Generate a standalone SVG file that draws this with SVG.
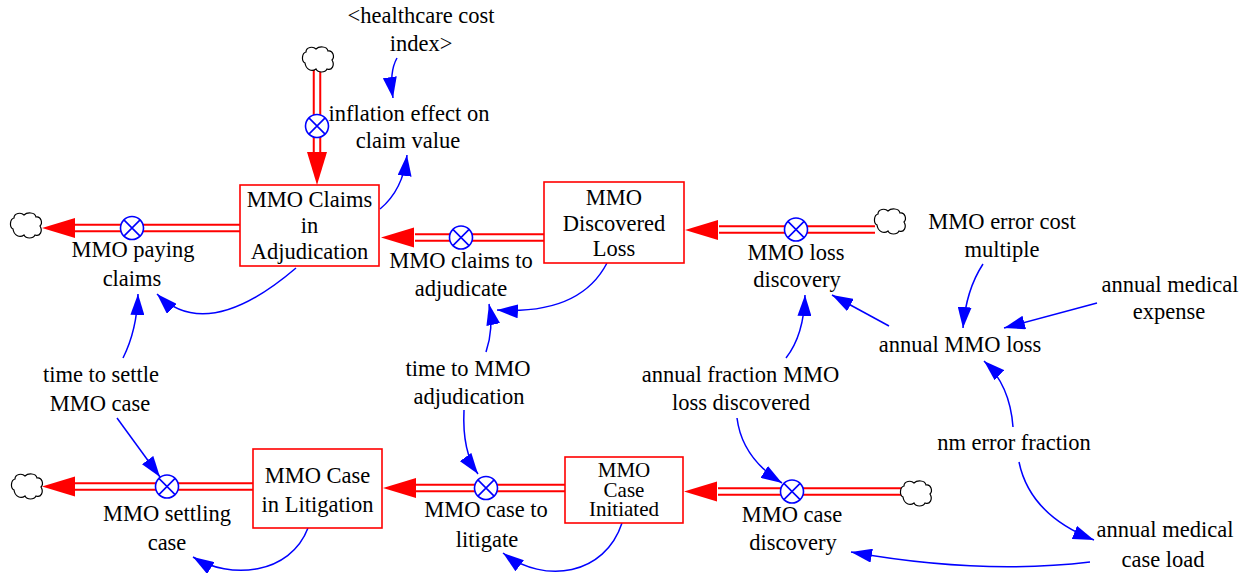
<svg xmlns="http://www.w3.org/2000/svg" width="1250" height="573" viewBox="0 0 1250 573" font-family="'Liberation Serif', 'DejaVu Serif', serif">
  <style>
    text { font-family: 'Liberation Serif', 'DejaVu Serif', serif; font-size: 22.5px; fill: #000; text-anchor: middle; }
    .tight { font-size: 21px; }
    .stock { fill: #fff; stroke: #ff0000; stroke-width: 1.6; }
    .pipeOuter { stroke: #ff0000; stroke-width: 8.5; fill: none; }
    .pipeInner { stroke: #fff; stroke-width: 4.5; fill: none; }
    .flowHead { fill: #ff0000; }
    .valve circle { fill: #fff; stroke: #0000ff; stroke-width: 1.6; }
    .valve path { stroke: #0000ff; stroke-width: 1.6; fill: none; }
    .cloud { fill: #fff; stroke: #000; stroke-width: 1.2; }
    .link { fill: none; stroke: #0000ff; stroke-width: 1.5; marker-end: url(#linkHead); }
  </style>
  <defs>
    <marker id="linkHead" markerUnits="userSpaceOnUse" viewBox="0 0 21 14" refX="21" refY="7" markerWidth="21" markerHeight="14" orient="auto">
      <path d="M0,0 L21,7 L0,14 Z" fill="#0000ff"/>
    </marker>
    <!-- flow arrowhead pointing along +x, tip at origin -->
    <path id="flowHead" class="flowHead" d="M0,0 L-33,-10 L-33,10 Z"/>
    <!-- source / sink cloud -->
    <path id="cloud" class="cloud" d="M-13,4 C-17,2 -16,-6 -12,-7 C-12,-12 -5,-13 -2,-10 C1,-13 9,-13 10,-8 C15,-9 17,-2 14,1 C17,6 14,12 9,10 C7,14 0,14 -2,10 C-6,13 -12,11 -13,4 Z"/>
    <g id="valve" class="valve">
      <circle cx="0" cy="0" r="11.5"/>
      <path d="M-8.1,-8.1 L8.1,8.1 M-8.1,8.1 L8.1,-8.1"/>
    </g>
  </defs>

  <rect width="1250" height="573" fill="#fff"/>

  <!-- flow pipes, arrowheads and causal links -->
  <g id="connectors">
    <!-- pipes -->
    <path class="pipeOuter" d="M317,70 V153 M240,228 H75 M544,237.5 H415 M875,229.5 H719 M253,486.5 H75 M565,488 H415 M901,491.5 H718"/>
    <path class="pipeInner" d="M317,70 V153 M240,228 H75 M544,237.5 H415 M875,229.5 H719 M253,486.5 H75 M565,488 H415 M901,491.5 H718"/>
    <use href="#flowHead" transform="translate(317,185) rotate(90)"/>
    <use href="#flowHead" transform="translate(42,228) rotate(180)"/>
    <use href="#flowHead" transform="translate(381,237.5) rotate(180)"/>
    <use href="#flowHead" transform="translate(685,230) rotate(180)"/>
    <use href="#flowHead" transform="translate(42,486.5) rotate(180)"/>
    <use href="#flowHead" transform="translate(383,488) rotate(180)"/>
    <use href="#flowHead" transform="translate(684,491.5) rotate(180)"/>

    <!-- links -->
    <path class="link" d="M397,58 Q389,72 393,98"/>
    <path class="link" d="M380,209 Q403,190 407,155"/>
    <path class="link" d="M296,268 Q207,344 157,294"/>
    <path class="link" d="M123,358 Q137,330 138,294"/>
    <path class="link" d="M117,418 L160,477"/>
    <path class="link" d="M607,263 Q580,315 497,310"/>
    <path class="link" d="M486,352 Q494,328 489,304"/>
    <path class="link" d="M464,410 Q462,452 478,474"/>
    <path class="link" d="M308,528 C290,575 230,580 193,557"/>
    <path class="link" d="M622,523 C605,575 545,585 503,553"/>
    <path class="link" d="M786,358 Q804,335 805,295"/>
    <path class="link" d="M737,418 Q742,458 782,483"/>
    <path class="link" d="M889,326 L832,295"/>
    <path class="link" d="M983,264 Q966,290 963,328"/>
    <path class="link" d="M1097,303 L1004,328"/>
    <path class="link" d="M1013,427 Q1010,385 984,361"/>
    <path class="link" d="M1019,462 Q1030,515 1094,540"/>
    <path class="link" d="M1090,562 Q980,575 851,552"/>
  </g>

  <!-- sources and sinks -->
  <g id="cloud-top"><use href="#cloud" transform="translate(318,59)"/></g>
  <g id="cloud-paying"><use href="#cloud" transform="translate(26,225)"/></g>
  <g id="cloud-loss"><use href="#cloud" transform="translate(890,221)"/></g>
  <g id="cloud-settling"><use href="#cloud" transform="translate(27,486)"/></g>
  <g id="cloud-case"><use href="#cloud" transform="translate(916,493)"/></g>

  <!-- stocks -->
  <g id="stock-claims">
    <rect class="stock" x="240" y="185" width="139" height="81"/>
    <text x="309.5" y="207">MMO Claims</text>
    <text x="309.5" y="233">in</text>
    <text x="309.5" y="259">Adjudication</text>
  </g>
  <g id="stock-discovered">
    <rect class="stock" x="544" y="182" width="140" height="81"/>
    <text x="614" y="205">MMO</text>
    <text x="614" y="231">Discovered</text>
    <text x="614" y="256">Loss</text>
  </g>
  <g id="stock-litigation">
    <rect class="stock" x="253" y="449" width="129" height="79"/>
    <text x="317.5" y="483">MMO Case</text>
    <text x="317.5" y="512">in Litigation</text>
  </g>
  <g id="stock-initiated">
    <rect class="stock" x="565" y="457" width="118" height="66"/>
    <text class="tight" x="624" y="477">MMO</text>
    <text class="tight" x="624" y="497">Case</text>
    <text class="tight" x="624" y="516">Initiated</text>
  </g>

  <!-- flows -->
  <g id="flow-inflation">
    <use href="#valve" transform="translate(317,126)"/>
    <text x="409" y="121">inflation effect on</text>
    <text x="408" y="148">claim value</text>
  </g>
  <g id="flow-paying">
    <use href="#valve" transform="translate(132,228)"/>
    <text x="133" y="257">MMO paying</text>
    <text x="132" y="286">claims</text>
  </g>
  <g id="flow-adjudicate">
    <use href="#valve" transform="translate(461,237.5)"/>
    <text x="461" y="268">MMO claims to</text>
    <text x="461" y="296">adjudicate</text>
  </g>
  <g id="flow-loss-discovery">
    <use href="#valve" transform="translate(796,229.5)"/>
    <text x="796" y="260">MMO loss</text>
    <text x="797" y="287">discovery</text>
  </g>
  <g id="flow-settling">
    <use href="#valve" transform="translate(167,486.5)"/>
    <text x="167" y="521">MMO settling</text>
    <text x="167" y="550">case</text>
  </g>
  <g id="flow-litigate">
    <use href="#valve" transform="translate(486,488)"/>
    <text x="486" y="517">MMO case to</text>
    <text x="487" y="547">litigate</text>
  </g>
  <g id="flow-case-discovery">
    <use href="#valve" transform="translate(792,491.5)"/>
    <text x="792" y="522">MMO case</text>
    <text x="793" y="550">discovery</text>
  </g>

  <!-- auxiliaries -->
  <g id="aux-healthcare">
    <text x="421" y="23">&lt;healthcare cost</text>
    <text x="421" y="51">index&gt;</text>
  </g>
  <g id="aux-error-cost">
    <text x="1002" y="229">MMO error cost</text>
    <text x="1002" y="257">multiple</text>
  </g>
  <g id="aux-medical-expense">
    <text x="1170" y="292">annual medical</text>
    <text x="1169" y="319">expense</text>
  </g>
  <g id="aux-annual-loss">
    <text x="960" y="352">annual MMO loss</text>
  </g>
  <g id="aux-time-settle">
    <text x="101" y="382">time to settle</text>
    <text x="100" y="411">MMO case</text>
  </g>
  <g id="aux-time-adjudication">
    <text x="468" y="376">time to MMO</text>
    <text x="469" y="404">adjudication</text>
  </g>
  <g id="aux-fraction-discovered">
    <text x="740.5" y="382">annual fraction MMO</text>
    <text x="741" y="410">loss discovered</text>
  </g>
  <g id="aux-nm-error">
    <text x="1014" y="450">nm error fraction</text>
  </g>
  <g id="aux-case-load">
    <text x="1165" y="537">annual medical</text>
    <text x="1163" y="567">case load</text>
  </g>
</svg>
